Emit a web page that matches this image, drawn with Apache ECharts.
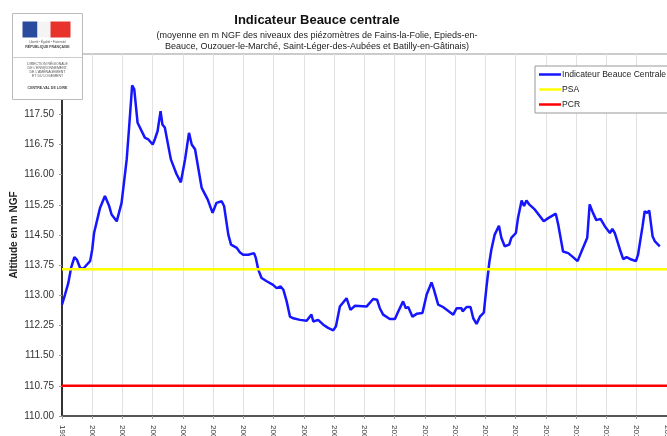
<!DOCTYPE html>
<html>
<head>
<meta charset="utf-8">
<script src="https://cdn.jsdelivr.net/npm/echarts@6/dist/echarts.min.js"></script>
<style>
    html, body { margin: 0; padding: 0; background: #fff; }
    #chart { width: 667px; height: 436px; }
</style>
</head>
<body>
<div id="chart"></div>
<script>
// decimal year of each reading
const yearPos = [
    1999.00, 1999.10, 1999.21, 1999.30, 1999.41, 1999.49, 1999.60, 1999.70, 1999.82, 1999.93,
    2000.00, 2000.06, 2000.26, 2000.42, 2000.56, 2000.64, 2000.81, 2000.86, 2000.97, 2001.14,
    2001.21, 2001.32, 2001.39, 2001.50, 2001.55, 2001.74, 2001.85, 2002.00, 2002.07, 2002.16,
    2002.26, 2002.32, 2002.40, 2002.60, 2002.79, 2002.93, 2003.07, 2003.20, 2003.29, 2003.40,
    2003.62, 2003.82, 2003.98, 2004.11, 2004.28, 2004.36, 2004.50, 2004.59, 2004.78, 2004.88,
    2004.99, 2005.16, 2005.35, 2005.41, 2005.49, 2005.60, 2005.77, 2005.98, 2006.10, 2006.23,
    2006.32, 2006.43, 2006.54, 2006.65, 2006.87, 2007.09, 2007.25, 2007.31, 2007.47, 2007.64,
    2007.80, 2007.97, 2008.06, 2008.19, 2008.41, 2008.54, 2008.69, 2009.07, 2009.29, 2009.42,
    2009.51, 2009.62, 2009.84, 2010.01, 2010.12, 2010.28, 2010.37, 2010.45, 2010.59, 2010.73,
    2010.92, 2011.06, 2011.22, 2011.30, 2011.44, 2011.60, 2011.94, 2012.05, 2012.21, 2012.25,
    2012.38, 2012.51, 2012.60, 2012.71, 2012.82, 2012.95, 2013.04, 2013.13, 2013.20, 2013.31,
    2013.45, 2013.53, 2013.64, 2013.79, 2013.86, 2014.01, 2014.08, 2014.20, 2014.28, 2014.36,
    2014.45, 2014.64, 2014.80, 2014.93, 2015.08, 2015.33, 2015.41, 2015.57, 2015.74, 2015.90,
    2016.05, 2016.18, 2016.37, 2016.45, 2016.56, 2016.67, 2016.81, 2016.95, 2017.12, 2017.20,
    2017.28, 2017.45, 2017.56, 2017.67, 2017.83, 2017.98, 2018.05, 2018.20, 2018.27, 2018.35,
    2018.42, 2018.53, 2018.61, 2018.77
];
// Indicateur Beauce Centrale (m NGF)
const indicateur = [
    112.77, 113.02, 113.31, 113.68, 113.95, 113.89, 113.68, 113.66, 113.76, 113.85,
    114.14, 114.55, 115.18, 115.47, 115.22, 115.01, 114.84, 114.80, 115.30, 116.38,
    117.08, 118.22, 118.12, 117.29, 117.25, 116.92, 116.88, 116.75, 116.88, 117.08,
    117.58, 117.25, 117.17, 116.38, 116.01, 115.81, 116.38, 117.04, 116.75, 116.63,
    115.67, 115.38, 115.05, 115.30, 115.34, 115.22, 114.51, 114.26, 114.18, 114.07,
    114.01, 114.01, 114.05, 113.93, 113.64, 113.43, 113.35, 113.26, 113.18, 113.22,
    113.14, 112.85, 112.47, 112.43, 112.39, 112.37, 112.52, 112.35, 112.39, 112.27,
    112.19, 112.13, 112.23, 112.72, 112.93, 112.64, 112.74, 112.72, 112.91, 112.89,
    112.68, 112.52, 112.41, 112.41, 112.60, 112.85, 112.68, 112.71, 112.47, 112.54,
    112.56, 113.02, 113.32, 113.14, 112.77, 112.71, 112.52, 112.68, 112.68, 112.60,
    112.71, 112.71, 112.43, 112.29, 112.47, 112.57, 113.22, 113.81, 114.14, 114.51,
    114.73, 114.43, 114.22, 114.26, 114.43, 114.55, 114.92, 115.36, 115.22, 115.36,
    115.26, 115.13, 114.97, 114.84, 114.92, 115.03, 114.76, 114.09, 114.05, 113.95,
    113.85, 114.09, 114.43, 115.26, 115.05, 114.87, 114.90, 114.72, 114.55, 114.65,
    114.55, 114.14, 113.90, 113.95, 113.89, 113.85, 114.01, 114.72, 115.09, 115.05,
    115.11, 114.47, 114.34, 114.22
];
const psaLevel = 113.65;
const pcrLevel = 110.75;
const xRange = [1999, 2020];

const myChart = echarts.init(document.getElementById('chart'), null, { renderer: 'canvas' });

const font = 'Liberation Sans, Arial, sans-serif';
const mainData = yearPos.map((x, i) => [x, indicateur[i]]);

myChart.setOption({
    animation: false,
    textStyle: { fontFamily: font },
    title: [
        {
            text: 'Indicateur Beauce centrale',
            left: 312, top: 9, textAlign: 'center',
            textStyle: { fontSize: 13, fontWeight: 'bold', color: '#111', fontFamily: font }
        },
        {
            text: '(moyenne en m NGF des niveaux des piézomètres de Fains-la-Folie, Epieds-en-\nBeauce, Ouzouer-le-Marché, Saint-Léger-des-Aubées et Batilly-en-Gâtinais)',
            left: 312, top: 25, textAlign: 'center',
            textStyle: { fontSize: 9, fontWeight: 'normal', color: '#222', lineHeight: 11, fontFamily: font }
        }
    ],
    legend: {
        orient: 'vertical',
        left: 535, top: 66,
        backgroundColor: '#fff',
        borderColor: '#999',
        borderWidth: 1,
        padding: [4, 6, 4, 4],
        itemGap: 6,
        itemWidth: 22,
        itemHeight: 2.5,
        icon: 'rect',
        textStyle: { fontSize: 8.6, color: '#222', padding: [0, 0, 0, -4] },
        data: ['Indicateur Beauce Centrale', 'PSA', 'PCR']
    },
    grid: {
        left: 62, top: 54, width: 635, height: 362,
        outerBoundsMode: 'none',
        containLabel: false,
        show: true, borderColor: '#999', borderWidth: 1
    },
    xAxis: {
        type: 'value',
        min: xRange[0], max: xRange[1], interval: 1,
        axisLine: { lineStyle: { color: '#555', width: 2 } },
        axisTick: { show: true, length: 3, lineStyle: { color: '#999' } },
        splitLine: { show: true, lineStyle: { color: '#e2e2e2', width: 1 } },
        axisLabel: {
            rotate: -90, margin: 9, fontSize: 8, color: '#333',
            formatter: v => String(v)
        }
    },
    yAxis: {
        type: 'value',
        min: 110, max: 119, interval: 0.75,
        name: 'Altitude en m NGF',
        nameLocation: 'middle', nameGap: 43,
        nameMoveOverlap: false,
        nameTextStyle: { fontSize: 10, fontWeight: 'bold', color: '#222' },
        axisLine: { show: true, lineStyle: { color: '#333', width: 2 } },
        axisTick: { show: true, length: 3, lineStyle: { color: '#999' } },
        splitLine: { show: false },
        axisLabel: {
            margin: 8, fontSize: 10, color: '#333',
            formatter: v => v.toFixed(2)
        }
    },
    series: [
        {
            name: 'Indicateur Beauce Centrale',
            type: 'line',
            data: mainData,
            showSymbol: false,
            symbol: 'none',
            lineStyle: { color: '#1515ff', width: 2.5 },
            itemStyle: { color: '#1515ff' }
        },
        {
            name: 'PSA',
            type: 'line',
            data: xRange.map(x => [x, psaLevel]),
            symbol: 'none',
            lineStyle: { color: '#ffff00', width: 2.5 },
            itemStyle: { color: '#ffff00' }
        },
        {
            name: 'PCR',
            type: 'line',
            data: xRange.map(x => [x, pcrLevel]),
            symbol: 'none',
            lineStyle: { color: '#ff0000', width: 2.5 },
            itemStyle: { color: '#ff0000' }
        }
    ],
    graphic: [
        {
            type: 'group', left: 10, top: 13, zlevel: 5,
            children: [
                { type: 'rect', z: 100, shape: { x: 0, y: 0, width: 70, height: 86 }, style: { fill: '#fff', stroke: '#bbb', lineWidth: 1 } },
                { type: 'rect', z: 101, shape: { x: 10, y: 8, width: 15, height: 16 }, style: { fill: '#2a4a9e' } },
                { type: 'rect', z: 101, shape: { x: 25, y: 8, width: 13, height: 16 }, style: { fill: '#f4f4f4' } },
                { type: 'rect', z: 101, shape: { x: 38, y: 8, width: 20, height: 16 }, style: { fill: '#e8332b' } },
                { type: 'text', z: 101, style: { x: 35, y: 27, text: 'Liberté • Égalité • Fraternité', fontSize: 3, fill: '#555', align: 'center', fontFamily: font } },
                { type: 'text', z: 101, style: { x: 35, y: 32, text: 'RÉPUBLIQUE FRANÇAISE', fontSize: 3.5, fontWeight: 'bold', fill: '#444', align: 'center', fontFamily: font } },
                { type: 'line', z: 101, shape: { x1: 0, y1: 44, x2: 70, y2: 44 }, style: { stroke: '#ccc', lineWidth: 1 } },
                { type: 'text', z: 101, style: { x: 35, y: 49, text: 'DIRECTION RÉGIONALE\nDE L\'ENVIRONNEMENT,\nDE L\'AMÉNAGEMENT\nET DU LOGEMENT', fontSize: 3.5, lineHeight: 4, fill: '#555', align: 'center', fontFamily: font } },
                { type: 'text', z: 101, style: { x: 35, y: 73, text: 'CENTRE-VAL DE LOIRE', fontSize: 3.5, fontWeight: 'bold', fill: '#444', align: 'center', fontFamily: font } }
            ]
        }
    ]
});

window.onresize = function () {
    myChart.resize();
};
</script>
</body>
</html>
